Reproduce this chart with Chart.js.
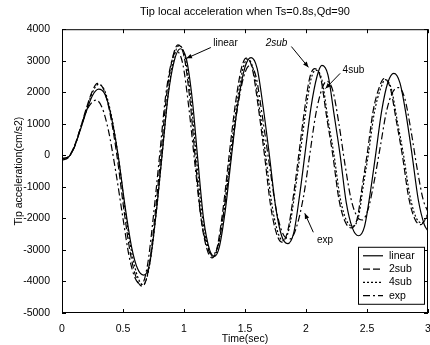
<!DOCTYPE html>
<html>
<head>
<meta charset="utf-8">
<script src="https://cdn.jsdelivr.net/npm/chart.js@4"></script>
<style>
  body { margin: 0; background: #fff; }
  #wrap { width: 430px; height: 345px; }
</style>
</head>
<body>
<div id="wrap"><canvas id="accChart" width="430" height="345"></canvas></div>
<script>
const seriesNames = ['linear', '2sub', '4sub', 'exp'];
const xTickLabels = ['0', '0.5', '1', '1.5', '2', '2.5', '3'];
const yTickLabels = ['-5000', '-4000', '-3000', '-2000', '-1000', '0', '1000', '2000', '3000', '4000'];

const linT = [0, 0.05, 0.10, 0.15, 0.20, 0.25, 0.30, 0.35, 0.40, 0.46, 0.52, 0.57, 0.62, 0.67, 0.72, 0.77, 0.82, 0.87, 0.92, 0.97, 1.02, 1.07, 1.11, 1.16, 1.21, 1.25, 1.29, 1.34, 1.39, 1.44, 1.50, 1.55, 1.60, 1.65, 1.70, 1.75, 1.80, 1.85, 1.90, 1.95, 1.99, 2.04, 2.09, 2.13, 2.18, 2.23, 2.28, 2.33, 2.38, 2.43, 2.48, 2.53, 2.57, 2.62, 2.67, 2.72, 2.77, 2.82, 2.87, 2.92, 2.97, 3.0];
const linV = [-100, -60, 250, 800, 1400, 1900, 2100, 1950, 1300, 0, -1700, -2900, -3600, -3800, -3400, -1900, 0, 1900, 3000, 3380, 3050, 1700, 0, -2000, -3000, -3200, -2900, -1700, 0, 1600, 2800, 3100, 2750, 1500, 0, -1600, -2550, -2800, -2450, -1200, 0, 1500, 2500, 2850, 2550, 1300, 0, -1500, -2300, -2550, -2250, -1100, 0, 1400, 2300, 2600, 2300, 1300, 0, -1400, -2200, -2400];

const sub2T = [0, 0.05, 0.10, 0.15, 0.20, 0.25, 0.29, 0.34, 0.39, 0.45, 0.51, 0.56, 0.61, 0.66, 0.71, 0.76, 0.81, 0.86, 0.91, 0.95, 1.00, 1.05, 1.09, 1.14, 1.19, 1.23, 1.27, 1.32, 1.37, 1.42, 1.47, 1.51, 1.56, 1.61, 1.66, 1.71, 1.76, 1.80, 1.85, 1.90, 1.94, 1.99, 2.03, 2.07, 2.12, 2.17, 2.22, 2.27, 2.32, 2.37, 2.42, 2.46, 2.50, 2.55, 2.60, 2.64, 2.69, 2.74, 2.79, 2.84, 2.89, 2.94, 3.0];
const sub2V = [-100, -50, 280, 850, 1500, 2050, 2280, 2100, 1400, 0, -1800, -3100, -3900, -4150, -3600, -2000, 0, 2000, 3150, 3500, 3150, 1700, 0, -2000, -3000, -3250, -2950, -1700, 0, 1600, 2750, 3080, 2750, 1500, 0, -1600, -2500, -2750, -2400, -1200, 0, 1500, 2450, 2750, 2450, 1200, 0, -1400, -2100, -2300, -2000, -1000, 0, 1400, 2150, 2430, 2150, 1100, 0, -1300, -2000, -2200, -1900];

const sub4T = [0, 0.05, 0.10, 0.15, 0.20, 0.25, 0.30, 0.35, 0.40, 0.46, 0.52, 0.57, 0.62, 0.665, 0.715, 0.77, 0.82, 0.87, 0.92, 0.96, 1.01, 1.06, 1.10, 1.15, 1.20, 1.24, 1.28, 1.33, 1.38, 1.43, 1.48, 1.52, 1.57, 1.62, 1.67, 1.72, 1.77, 1.81, 1.86, 1.91, 1.95, 2.00, 2.04, 2.08, 2.13, 2.18, 2.23, 2.28, 2.33, 2.38, 2.43, 2.47, 2.51, 2.56, 2.61, 2.65, 2.70, 2.75, 2.80, 2.85, 2.90, 2.95, 3.0];
const sub4V = [-100, -60, 260, 820, 1450, 2000, 2250, 2050, 1350, 0, -1800, -3050, -3850, -4100, -3550, -1900, 0, 1950, 3150, 3480, 3100, 1650, 0, -1950, -2950, -3220, -2900, -1650, 0, 1550, 2700, 3050, 2700, 1450, 0, -1550, -2450, -2700, -2350, -1150, 0, 1450, 2400, 2700, 2400, 1150, 0, -1350, -2050, -2250, -1950, -950, 0, 1350, 2100, 2400, 2100, 1050, 0, -1250, -1950, -2150, -1850];

const expT = [0, 0.05, 0.10, 0.15, 0.20, 0.25, 0.28, 0.33, 0.38, 0.44, 0.50, 0.55, 0.60, 0.65, 0.70, 0.75, 0.80, 0.85, 0.90, 0.94, 0.99, 1.04, 1.09, 1.14, 1.19, 1.23, 1.28, 1.33, 1.38, 1.43, 1.49, 1.54, 1.59, 1.64, 1.70, 1.76, 1.82, 1.87, 1.92, 1.98, 2.03, 2.08, 2.13, 2.17, 2.22, 2.27, 2.32, 2.37, 2.42, 2.46, 2.51, 2.56, 2.61, 2.66, 2.71, 2.76, 2.81, 2.86, 2.91, 2.96, 3.0];
const expV = [-150, -80, 250, 850, 1400, 1700, 1750, 1500, 800, -500, -2000, -3200, -3900, -4100, -3500, -1900, 0, 1900, 3000, 3300, 2900, 1500, -300, -2000, -2900, -3150, -2850, -1700, -200, 1300, 2500, 2850, 2500, 1300, -300, -1800, -2550, -2650, -2300, -1300, 0, 1300, 2100, 2350, 2050, 1000, -300, -1400, -1950, -2050, -1700, -800, 300, 1400, 2000, 2150, 1800, 800, -400, -1400, -1800];

// callouts: [text, textT, textV, tailT, tailV, headT, headV, italic]
const callouts = [
  ['linear', 1.24, 3550, 1.22, 3420, 1.02, 3075, false],
  ['2sub', 1.67, 3550, 1.88, 3450, 2.02, 2790, true],
  ['4sub', 2.30, 2700, 2.28, 2600, 2.16, 2120, false],
  ['exp', 2.09, -2690, 2.06, -2440, 1.99, -1840, false]
];

const dashes = [[], [7, 3], [2, 2], [7, 3, 2, 3]];
const allT = [linT, sub2T, sub4T, expT];
const allV = [linV, sub2V, sub4V, expV];

const FONT = '"Liberation Sans", Arial, sans-serif';

const frame = {
  id: 'frame',
  afterDatasetsDraw(chart) {
    const ctx = chart.ctx;
    const a = chart.chartArea;
    const xs = chart.scales.x, ys = chart.scales.y;
    ctx.save();
    ctx.strokeStyle = '#000';
    ctx.lineWidth = 1;
    ctx.strokeRect(a.left + 0.5, a.top + 0.5, a.right - a.left - 1, a.bottom - a.top - 1);
    ctx.beginPath();
    xs.ticks.forEach(t => {
      const px = Math.round(xs.getPixelForValue(t.value)) + 0.5;
      ctx.moveTo(px, a.bottom); ctx.lineTo(px, a.bottom - 4);
      ctx.moveTo(px, a.top); ctx.lineTo(px, a.top + 4);
    });
    ys.ticks.forEach(t => {
      const py = Math.round(ys.getPixelForValue(t.value)) + 0.5;
      ctx.moveTo(a.left, py); ctx.lineTo(a.left + 4, py);
      ctx.moveTo(a.right, py); ctx.lineTo(a.right - 4, py);
    });
    ctx.stroke();

    // callouts with arrows
    ctx.fillStyle = '#000';
    ctx.textBaseline = 'middle';
    callouts.forEach(c => {
      ctx.font = (c[7] ? 'italic ' : '') + '10px ' + FONT;
      ctx.textAlign = 'left';
      ctx.fillText(c[0], xs.getPixelForValue(c[1]), ys.getPixelForValue(c[2]));
      const x1 = xs.getPixelForValue(c[3]), y1 = ys.getPixelForValue(c[4]);
      const x2 = xs.getPixelForValue(c[5]), y2 = ys.getPixelForValue(c[6]);
      ctx.beginPath();
      ctx.moveTo(x1, y1); ctx.lineTo(x2, y2);
      ctx.stroke();
      const ang = Math.atan2(y2 - y1, x2 - x1);
      ctx.beginPath();
      ctx.moveTo(x2, y2);
      ctx.lineTo(x2 - 6 * Math.cos(ang - 0.4), y2 - 6 * Math.sin(ang - 0.4));
      ctx.lineTo(x2 - 6 * Math.cos(ang + 0.4), y2 - 6 * Math.sin(ang + 0.4));
      ctx.closePath();
      ctx.fill();
    });

    // legend box
    const bw = 66, bh = 57;
    const bx = a.right - bw - 4, by = ys.getPixelForValue(-2900);
    ctx.fillStyle = '#fff';
    ctx.fillRect(bx, by, bw, bh);
    ctx.lineWidth = 1;
    ctx.strokeRect(bx + 0.5, by + 0.5, bw, bh);
    ctx.font = '10.5px ' + FONT;
    chart.data.datasets.forEach((ds, i) => {
      const ry = by + 9 + i * 13.3;
      ctx.strokeStyle = '#000';
      ctx.lineWidth = 1.2;
      ctx.setLineDash(ds.borderDash);
      ctx.beginPath();
      ctx.moveTo(bx + 5, ry); ctx.lineTo(bx + 25, ry);
      ctx.stroke();
      ctx.setLineDash([]);
      ctx.fillStyle = '#000';
      ctx.fillText(ds.label, bx + 31, ry);
    });
    ctx.restore();
  }
};

new Chart(document.getElementById('accChart'), {
  type: 'line',
  data: {
    datasets: seriesNames.map((name, i) => ({
      label: name,
      data: allT[i].map((t, j) => ({ x: t, y: allV[i][j] })),
      borderColor: '#000',
      borderWidth: 1.2,
      borderDash: dashes[i],
      pointRadius: 0,
      fill: false,
      cubicInterpolationMode: 'monotone'
    }))
  },
  options: {
    responsive: false,
    animation: false,
    layout: { padding: { left: 0, right: 2, top: 0, bottom: 0 } },
    plugins: {
      legend: { display: false },
      tooltip: { enabled: false },
      title: {
        display: true,
        fullSize: false,
        text: 'Tip local acceleration when Ts=0.8s,Qd=90',
        color: '#000',
        font: { family: FONT, size: 11, weight: 'normal' },
        padding: { top: 5, bottom: 11 }
      }
    },
    scales: {
      x: {
        type: 'linear',
        min: 0, max: 3,
        ticks: {
          stepSize: 0.5,
          color: '#000',
          font: { family: FONT, size: 10.5 },
          padding: 2,
          maxRotation: 0,
          callback: (v, i) => xTickLabels[i]
        },
        grid: { display: false },
        border: { display: false },
        title: { display: true, text: 'Time(sec)', color: '#000', font: { family: FONT, size: 10.5 }, padding: 0 },
        afterFit(s) { s.height = 32; s.paddingLeft = 0; s.paddingRight = 0; }
      },
      y: {
        min: -5000, max: 4000,
        ticks: {
          stepSize: 1000,
          color: '#000',
          font: { family: FONT, size: 10.5 },
          padding: 4,
          callback: (v, i) => yTickLabels[i]
        },
        grid: { display: false },
        border: { display: false },
        title: { display: true, text: 'Tip acceleration(cm/s2)', color: '#000', font: { family: FONT, size: 10.5 }, padding: { top: 13, bottom: 0 } },
        afterFit(s) { s.width = 62; s.paddingTop = 0; s.paddingBottom = 0; }
      }
    }
  },
  plugins: [frame]
});
</script>
</body>
</html>
